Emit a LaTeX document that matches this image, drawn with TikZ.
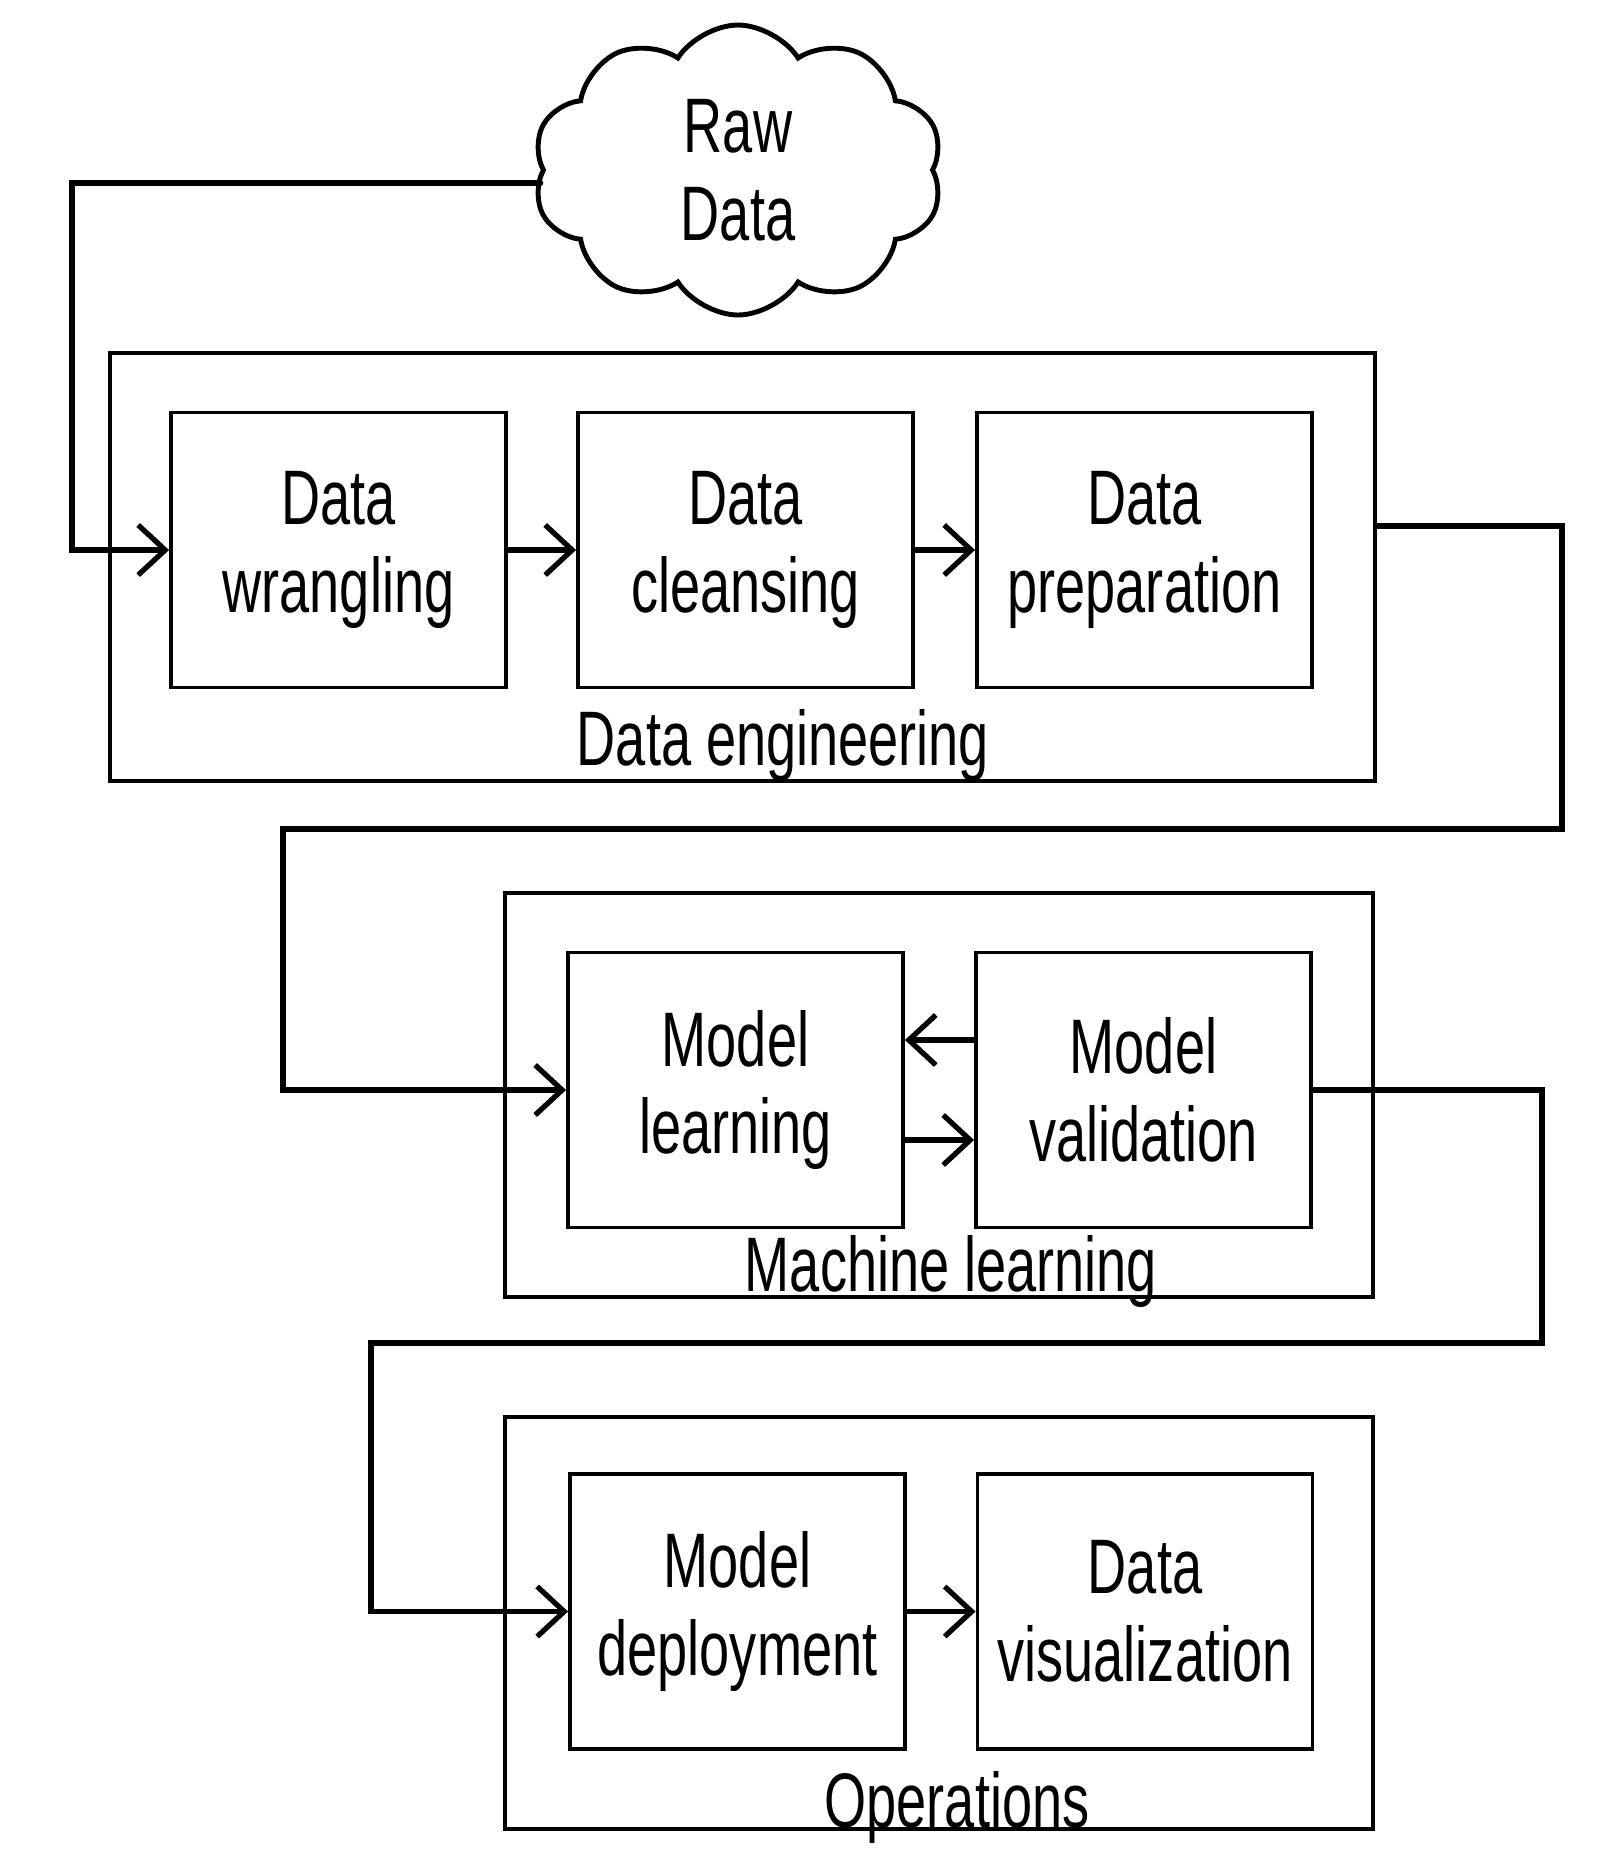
\documentclass[tikz,border=0pt]{standalone}
\usepackage{fontspec}
\setmainfont{Liberation Sans}
\newfontfamily\hand[FakeStretch=0.7]{Liberation Sans}
\usetikzlibrary{arrows.meta,positioning,shapes.symbols}
\tikzset{
  >={Straight Barb[length=2.7mm,width=5mm]},
  stage/.style={draw,line width=1.1pt,inner sep=0pt},
  task/.style={draw,line width=1.1pt,minimum width=3.35cm,minimum height=2.75cm,
    align=center,font=\hand\fontsize{22}{25}\selectfont},
  flow/.style={->,line width=1.5pt,line cap=round},
  tag/.style={font=\hand\fontsize{22}{25}\selectfont,anchor=base},
}
\begin{document}
\begin{tikzpicture}
  \useasboundingbox (0,0) rectangle (16.07,-18.75);
  % source
  \node[cloud,draw,line width=1.4pt,cloud puffs=10,cloud puff arc=115,aspect=1.4,
    minimum width=4.1cm,minimum height=2.9cm,align=center,
    font=\hand\fontsize{22}{25}\selectfont] (raw) at (7.38,-1.70) {Raw\\Data};
  % data engineering
  \node[stage,minimum width=12.65cm,minimum height=4.28cm] (eng) at (7.425,-5.67) {};
  \node[task] (wrangle) at (3.385,-5.50) {Data\\wrangling};
  \node[task] (cleanse) at (7.455,-5.50) {Data\\cleansing};
  \node[task] (prep) at (11.445,-5.50) {Data\\preparation};
  \node[tag] (engL) at (7.83,-7.65) {Data engineering};
  % machine learning
  \node[stage,minimum width=8.68cm,minimum height=4.04cm] (ml) at (9.39,-10.95) {};
  \node[task] (learn) at (7.355,-10.90) {Model\\learning};
  \node[task] (valid) at (11.435,-10.90) {Model\\validation};
  \node[tag] (mlL) at (9.51,-12.91) {Machine learning};
  % operations
  \node[stage,minimum width=8.68cm,minimum height=4.12cm] (ops) at (9.39,-16.23) {};
  \node[task] (deploy) at (7.375,-16.115) {Model\\deployment};
  \node[task] (visual) at (11.45,-16.115) {Data\\visualization};
  \node[tag] (opsL) at (9.57,-18.27) {Operations};
  % connectors
  \coordinate (bendA) at (0.72,-1.83);
  \coordinate (exitB) at (13.75,-5.26);
  \coordinate (bendB) at (15.62,-8.29);
  \coordinate (bendC) at (2.83,-8.29);
  \coordinate (bendD) at (15.42,-13.43);
  \coordinate (bendE) at (3.71,-13.43);
  \draw[flow] (raw.west |- bendA) -- (bendA) |- (wrangle.west);
  \draw[flow] (wrangle) -- (cleanse);
  \draw[flow] (cleanse) -- (prep);
  \draw[flow] (exitB -| eng.east) -| (bendB) -- (bendC) |- (learn.west);
  \draw[flow] ([yshift=5mm]valid.west) -- ([yshift=5mm]learn.east);
  \draw[flow] ([yshift=-5mm]learn.east) -- ([yshift=-5mm]valid.west);
  \draw[flow] (valid.east) -| (bendD) -- (bendE) |- (deploy.west);
  \draw[flow] (deploy) -- (visual);
\end{tikzpicture}
\end{document}
